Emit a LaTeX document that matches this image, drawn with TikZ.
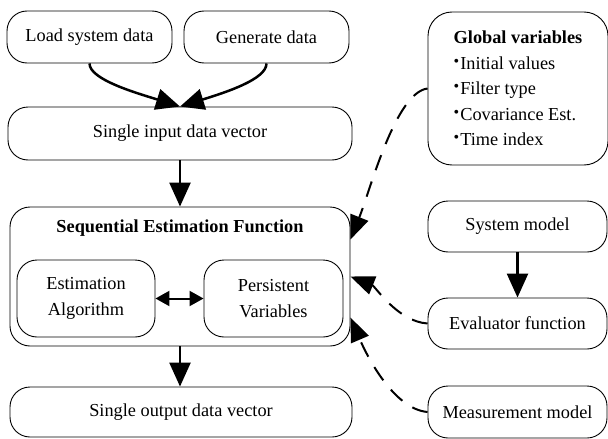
\documentclass[tikz,border=0pt]{standalone}
\usepackage{fontspec}
\setmainfont{Liberation Serif}
\usetikzlibrary{arrows.meta}

\newcommand{\itembullet}{\raisebox{0.35ex}{\fontsize{16}{16}\selectfont\textbullet}\kern1pt}

\begin{document}
\begin{tikzpicture}[x=1pt, y=-1pt,
    box/.style={draw, line width=0.9pt, rounded corners=20pt, align=center, inner sep=0pt,
        font=\fontsize{18.3}{25.5}\selectfont},
    flow/.style={line width=2.5pt, -{Triangle[length=24pt, width=21pt]}},
    dep/.style={line width=2pt, dash pattern=on 16pt off 12pt, -{Triangle[length=24pt, width=19pt]}}]

    \useasboundingbox (0,0) rectangle (608,439);

    % data sources
    \node[box, minimum width=165pt, minimum height=52pt] (load) at (89.5,37) {Load system data};
    \node[box, minimum width=165pt, minimum height=52pt] (gen) at (266.5,37) {Generate data};
    \node[box, minimum width=344pt, minimum height=53pt] (input) at (180,133.5) {Single input data vector};

    % estimation function
    \node[box, minimum width=340pt, minimum height=139pt] (sef) at (180,276.5) {};
    \node[font=\fontsize{18.3}{22}\selectfont\bfseries] (title) at (180,228) {Sequential Estimation Function};
    \node[box, minimum width=138pt, minimum height=77pt] (alg) at (86,298.5) {Estimation\\Algorithm};
    \node[box, minimum width=139pt, minimum height=77pt] (pers) at (273.5,298.5) {Persistent\\Variables};
    \node[box, minimum width=342pt, minimum height=50pt] (output) at (181,412) {Single output data vector};

    % models
    \node[box, minimum width=180pt, minimum height=153pt, rounded corners=24pt, align=left] (glob) at (518,88.5)
        {\textbf{Global variables}\\\itembullet Initial values\\\itembullet Filter type\\\itembullet Covariance Est.\\\itembullet Time index};
    \node[box, minimum width=179pt, minimum height=51pt] (sys) at (517.5,226.5) {System model};
    \node[box, minimum width=179pt, minimum height=51pt] (eval) at (517.5,323.5) {Evaluator function};
    \node[box, minimum width=179pt, minimum height=52pt] (meas) at (517.5,412) {Measurement model};

    \draw[flow] (load.south) .. controls +(0,16) and +(-45,-14) .. (input.north);
    \draw[flow] (gen.south) .. controls +(0,16) and +(45,-14) .. (input.north);
    \draw[flow] (input.south) -- (sef.north);
    \draw[flow] (sef.south) -- (sef.south |- output.north);
    \draw[line width=2pt, {Triangle[length=14pt, width=15pt]}-{Triangle[length=14pt, width=15pt]}] (alg.east) -- (pers.west);
    \draw[flow] (sys.south) -- (eval.north);

    \draw[dep] (glob.west) .. controls +(-32,4) and +(20,-50) .. ([yshift=37pt]sef.east);
    \draw[dep] (eval.west) .. controls +(-30,-2) and +(25,10) .. (sef.east);
    \draw[dep] (meas.west) .. controls +(-35,-3) and +(15,35) .. ([yshift=-41pt]sef.east);

\end{tikzpicture}
\end{document}
